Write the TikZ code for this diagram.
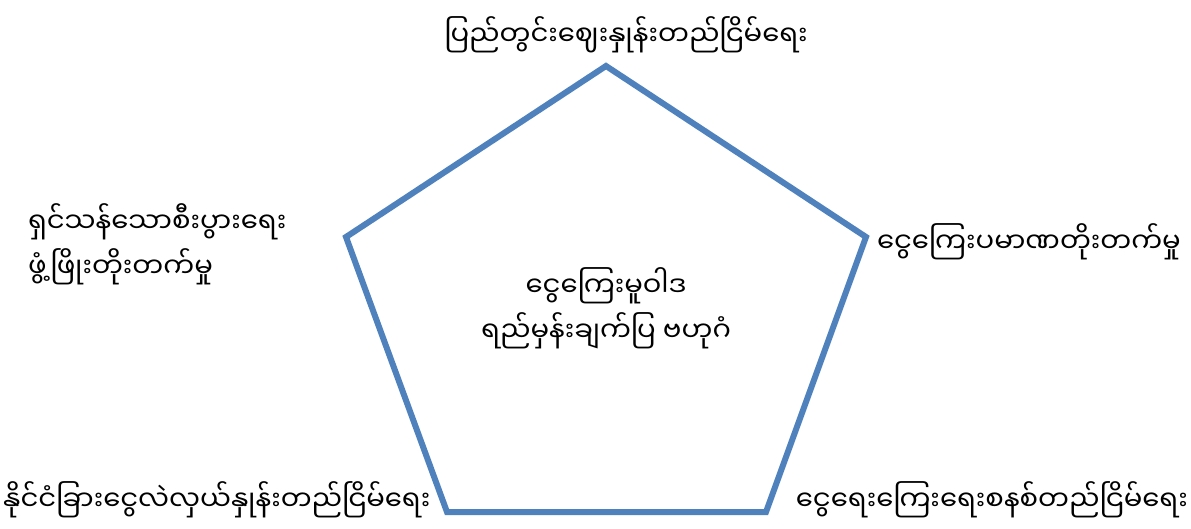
\documentclass[tikz,border=0pt]{standalone}
\usepackage{fontspec}
\newfontfamily\mmfont[Script=Myanmar]{Noto Sans Myanmar UI}
\definecolor{penblue}{HTML}{4F81BD}
\begin{document}
\begin{tikzpicture}[
    x=1pt, y=-1pt,
    goal/.style={font=\mmfont\fontsize{27.5}{45}\selectfont, inner sep=0pt},
    edge/.style={draw=penblue, line width=6pt, line join=miter}
  ]
  \useasboundingbox (0,0) rectangle (1191,529);
  % corners of the pentagon
  \coordinate (pt) at (606,66);
  \coordinate (pr) at (866,237);
  \coordinate (pbr) at (766,512);
  \coordinate (pbl) at (447,512);
  \coordinate (pl) at (346,237);
  \draw[edge] (pt) -- (pr) -- (pbr) -- (pbl) -- (pl) -- cycle;
  % goals
  \node[goal] (top) at (626,35) {ပြည်တွင်းဈေးနှုန်းတည်ငြိမ်ရေး};
  \node[goal, anchor=west, align=left] (left) at (28,244) {ရှင်သန်သောစီးပွားရေး\\ဖွံ့ဖြိုးတိုးတက်မှု};
  \node[goal, anchor=east] (right) at (1181,242) {ငွေကြေးပမာဏတိုးတက်မှု};
  \node[goal, anchor=west] (botleft) at (3,500) {နိုင်ငံခြားငွေလဲလှယ်နှုန်းတည်ငြိမ်ရေး};
  \node[goal, anchor=east] (botright) at (1188,500) {ငွေရေးကြေးရေးစနစ်တည်ငြိမ်ရေး};
  \node[goal, align=center] (mid) at (606,308) {ငွေကြေးမူဝါဒ\\ရည်မှန်းချက်ပြ ဗဟုဂံ};
\end{tikzpicture}
\end{document}
